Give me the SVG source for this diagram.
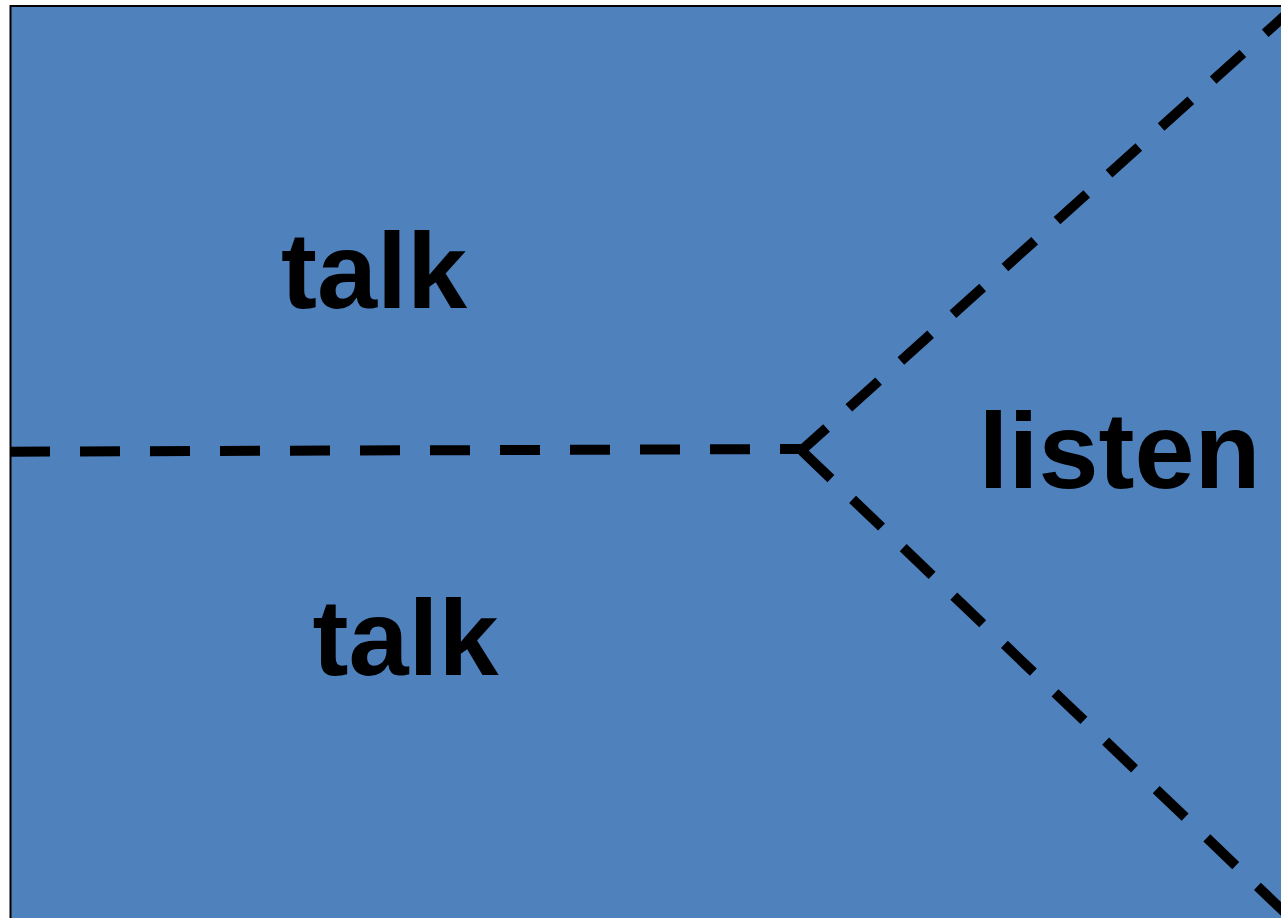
<svg xmlns="http://www.w3.org/2000/svg" width="1281" height="918" viewBox="0 0 1281 918">
<style>
.bg{fill:#4F81BD;stroke:#000;stroke-width:2}
.dash{fill:none;stroke:#000;stroke-width:10;stroke-dasharray:40 30;stroke-linecap:butt}
.lbl{font-family:"Liberation Sans",Arial,sans-serif;font-weight:bold;font-size:108px;fill:#000}
</style>
<rect width="1281" height="918" fill="#fff"/>
<g id="panel"><rect class="bg" x="10.5" y="6" width="1300" height="950"/></g>
<g id="connectors">
<line class="dash" x1="10" y1="451.7" x2="802" y2="449"/>
<line class="dash" x1="802" y1="450" x2="1300" y2="2" style="stroke-dashoffset:7"/>
<line class="dash" x1="802" y1="451" x2="1300" y2="927"/>
</g>
<g id="talk-top"><text class="lbl" x="281" y="308">talk</text></g>
<g id="talk-bottom"><text class="lbl" x="312.5" y="675">talk</text></g>
<g id="listen"><text class="lbl" x="978.5" y="488">listen</text></g>
</svg>
